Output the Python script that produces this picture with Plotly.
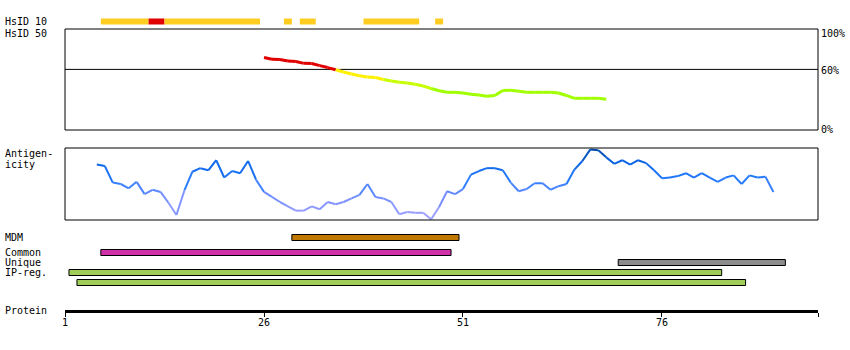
import plotly.graph_objects as go

# ---------------- data ----------------
protein_length = 95.6
tick_vals = [1, 26, 51, 76]

# HsID 10 segments (residue start, residue end, category)
hs10_start = [6, 12, 14, 29, 31, 39, 48]
hs10_end = [11, 13, 25, 29, 32, 45, 48]
hs10_level = ["mid", "high", "mid", "mid", "mid", "mid", "mid"]

# HsID 50 identity profile (%)
hs50_pos = list(range(26, 70))
hs50_pct = [71.8, 70.0, 69.8, 68.3, 67.8, 66.0, 65.8, 63.7, 61.8, 59.6,
            57.4, 55.4, 53.8, 52.5, 52.0, 50.0, 48.5, 47.2, 46.5, 45.3,
            43.6, 41.1, 38.9, 37.3, 37.3, 36.6, 35.3, 34.6, 33.4, 34.2,
            39.1, 39.3, 38.4, 37.3, 37.3, 37.3, 37.3, 36.6, 34.2, 31.4,
            31.4, 31.4, 31.4, 30.4]

# Antigenicity profile (normalised score)
ag_pos = list(range(5, 91))
ag_val = [0.77, 0.75, 0.52, 0.50, 0.44, 0.53, 0.36, 0.42, 0.39, 0.24,
          0.07, 0.41, 0.67, 0.72, 0.69, 0.83, 0.59, 0.68, 0.65, 0.82,
          0.56, 0.39, 0.32, 0.25, 0.19, 0.13, 0.13, 0.19, 0.15, 0.25,
          0.22, 0.25, 0.30, 0.35, 0.50, 0.32, 0.30, 0.25, 0.08, 0.11,
          0.10, 0.10, 0.01, 0.18, 0.40, 0.36, 0.43, 0.63, 0.68, 0.72,
          0.72, 0.69, 0.52, 0.40, 0.43, 0.51, 0.51, 0.42, 0.47, 0.50,
          0.70, 0.82, 0.98, 0.97, 0.87, 0.78, 0.83, 0.77, 0.83, 0.79,
          0.69, 0.58, 0.59, 0.61, 0.65, 0.59, 0.65, 0.59, 0.53, 0.59,
          0.62, 0.50, 0.62, 0.59, 0.60, 0.39]

# Feature tracks (residue start, residue end)
track_names = ["MDM", "Common", "Unique", "IP-reg.", "IP-reg."]
track_start = [30, 6, 71, 2, 3]
track_end = [50, 49, 91, 83, 86]

# right-hand scale labels of the HsID 50 panel
scale_labels = ["100%", "60%", "0%"]

# ---------------- styling ----------------
W, H = 850, 350
ML, MR = 65, 32
PW = W - ML - MR
FONT = "DejaVu Sans Mono"
track_colors = ["#C07800", "#D030A8", "#8C8C8C", "#A0CC58", "#A0CC58"]
track_rows_px = [(234.5, 240.5), (249.5, 255.5), (259.5, 265.5), (269.5, 275.5), (279.5, 285.5)]
hs10_colors = {"mid": "#FFCC22", "high": "#E00000"}
scale_label_px = [33, 70.5, 129]


def py(pix):
    return 1 - pix / H


def px(pix):
    return (pix - ML) / PW


def hs50_color(p):
    if p > 60:
        return "#E00000"
    if p > 50:
        return "#FFF000"
    if p > 40:
        return "#C8FF00"
    return "#A0FF00"


def lerp(c1, c2, t):
    return tuple(int(round(a + (b - a) * t)) for a, b in zip(c1, c2))


def ag_color(v):
    stops = [(0.0, (170, 165, 255)), (0.35, (110, 140, 255)), (0.55, (40, 125, 255)),
             (0.8, (10, 100, 230)), (1.0, (0, 70, 160))]
    for (v0, c0), (v1, c1) in zip(stops[:-1], stops[1:]):
        if v <= v1:
            c = lerp(c0, c1, (v - v0) / (v1 - v0))
            return "rgb(%d,%d,%d)" % c
    return "rgb(%d,%d,%d)" % stops[-1][1]


fig = go.Figure()

# HsID 50 line, segment-coloured
for i in range(len(hs50_pos) - 1):
    m = (hs50_pct[i] + hs50_pct[i + 1]) / 2
    fig.add_trace(go.Scatter(x=hs50_pos[i:i + 2], y=hs50_pct[i:i + 2], mode="lines",
                             line=dict(color=hs50_color(m), width=3),
                             xaxis="x", yaxis="y", showlegend=False, hoverinfo="skip"))

# Antigenicity line, segment-coloured
for i in range(len(ag_pos) - 1):
    m = (ag_val[i] + ag_val[i + 1]) / 2
    fig.add_trace(go.Scatter(x=ag_pos[i:i + 2], y=ag_val[i:i + 2], mode="lines",
                             line=dict(color=ag_color(m), width=2),
                             xaxis="x", yaxis="y2", showlegend=False, hoverinfo="skip"))

shapes = []
# HsID 10 bar
for s, e, lv in zip(hs10_start, hs10_end, hs10_level):
    shapes.append(dict(type="rect", xref="x", yref="paper", x0=s - 0.5, x1=e + 0.5,
                       y0=py(24.5), y1=py(18.5), fillcolor=hs10_colors[lv], line=dict(width=0),
                       layer="above"))
# panel boxes
shapes.append(dict(type="rect", xref="x domain", yref="y domain", x0=0, x1=1, y0=0, y1=1,
                   line=dict(color="black", width=1)))
shapes.append(dict(type="line", xref="x domain", yref="y", x0=0, x1=1, y0=60, y1=60,
                   line=dict(color="black", width=1), layer="below"))
shapes.append(dict(type="rect", xref="x domain", yref="y2 domain", x0=0, x1=1, y0=0, y1=1,
                   line=dict(color="black", width=1)))
# feature tracks
for s, e, c, (ya, yb) in zip(track_start, track_end, track_colors, track_rows_px):
    shapes.append(dict(type="rect", xref="x", yref="paper", x0=s - 0.5, x1=e + 0.5,
                       y0=py(yb), y1=py(ya), fillcolor=c, line=dict(color="black", width=1)))

annotations = []
labels_left = [("HsID 10", 21), ("HsID 50", 33), ("Antigen-", 154), ("icity", 164),
               ("MDM", 237), ("Common", 252), ("Unique", 262), ("IP-reg.", 272),
               ("Protein", 310)]
for txt, ypx in labels_left:
    annotations.append(dict(text=txt, xref="paper", yref="paper", x=px(3), y=py(ypx),
                            xanchor="left", yanchor="middle", showarrow=False,
                            font=dict(family=FONT, size=10, color="black")))
for txt, ypx in zip(scale_labels, scale_label_px):
    annotations.append(dict(text=txt, xref="paper", yref="paper", x=px(819), y=py(ypx),
                            xanchor="left", yanchor="middle", showarrow=False,
                            font=dict(family=FONT, size=10, color="black")))

fig.update_layout(
    width=W, height=H, margin=dict(l=ML, r=MR, t=0, b=0),
    paper_bgcolor="white", plot_bgcolor="white",
    xaxis=dict(range=[1, protein_length], anchor="free", position=py(311),
               showgrid=False, zeroline=False, showline=True, linecolor="black", linewidth=3,
               ticks="outside", ticklen=4, tickwidth=1, tickcolor="black",
               ticklabelstandoff=-3,
               tickvals=tick_vals + [protein_length],
               ticktext=[str(t) for t in tick_vals] + [""],
               tickfont=dict(family=FONT, size=10, color="black")),
    yaxis=dict(domain=[py(130), py(29)], range=[0, 100], visible=False, anchor="x"),
    yaxis2=dict(domain=[py(220), py(148)], range=[0, 1], visible=False, anchor="x"),
    shapes=shapes, annotations=annotations, showlegend=False,
)

fig.write_html("out.html")
